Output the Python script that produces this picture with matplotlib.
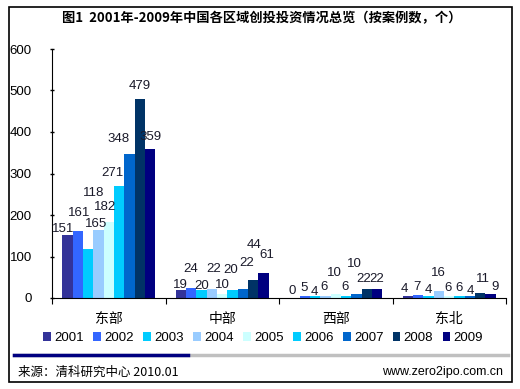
import matplotlib.pyplot as plt
import numpy as np
from matplotlib.patches import Rectangle, Patch
from matplotlib.lines import Line2D

plt.rcParams['font.family'] = ['Liberation Sans', 'Noto Sans CJK SC', 'DejaVu Sans']
cjk = ['Noto Sans CJK SC', 'DejaVu Sans']

regions = ['东部', '中部', '西部', '东北']
years = ['2001', '2002', '2003', '2004', '2005', '2006', '2007', '2008', '2009']
east = [151, 161, 118, 165, 182, 271, 348, 479, 359]
central = [19, 24, 20, 22, 10, 20, 22, 44, 61]
west = [0, 5, 4, 6, 10, 6, 10, 22, 22]
northeast = [4, 7, 4, 16, 6, 6, 4, 11, 9]
colors = ['#333399', '#3366FF', '#00CCFF', '#99CCFF', '#CCFFFF',
          '#00CCFF', '#0066CC', '#003366', '#000080']

# label nudges (pixels), mimic the staggered Excel labels
label_dx = [[-4, 1, 6, -2, -4, -7, -11, 0, 0],
            [0, -1, 0, 2, 0, -2, 4, 1, 3],
            [-2, -1, -1, -1, -1, -1, -2, -3, 0],
            [-4, -1, 0, -1, -1, -1, 0, 3, 4]]
label_dy = [[6, 18, 56, 6, 15, 13, 15, 13, 12],
            [5, 19, 4, 20, 9, 20, 26, 35, 18],
            [7, 8, 4, 9, 21, 9, 30, 10, 10],
            [7, 8, 6, 18, 8, 8, 5, 14, 7]]

data = np.array([east, central, west, northeast])

fig = plt.figure(figsize=(5.2, 3.89), dpi=100)
W, H = 520, 389
ax = fig.add_axes([52 / W, 1 - 298 / H, 454 / W, 249 / H])

n = len(years)
bw = 0.82 / n
x = np.arange(len(regions))
for j in range(n):
    pos = x - 0.41 + bw * (j + 0.5)
    ax.bar(pos, data[:, j], width=bw, color=colors[j], edgecolor='none')
    for i in range(len(regions)):
        ax.annotate(str(data[i, j]), (pos[i], data[i, j]),
                    xytext=(label_dx[i][j], label_dy[i][j]), textcoords='offset pixels',
                    ha='center', va='center', fontsize=9.5, color='#1a1a2a')

ax.set_xlim(-0.5, len(regions) - 0.5)
ax.set_ylim(0, 600)
ax.set_yticks(range(0, 601, 100))
ax.tick_params(axis='y', length=3, direction='inout', labelsize=9.5, pad=13, width=1)
ax.set_xticks(np.arange(len(regions) + 1) - 0.5)
ax.set_xticklabels([])
ax.set_xticks(x, minor=True)
ax.set_xticklabels(regions, minor=True, family=cjk, fontsize=10)
ax.tick_params(axis='x', which='major', length=4, direction='out')
ax.tick_params(axis='x', which='minor', length=0, pad=10)
for s in ['top', 'right']:
    ax.spines[s].set_visible(False)

handles = [Patch(facecolor=c, edgecolor='none') for c in colors]
fig.legend(handles, years, loc='center', bbox_to_anchor=(263 / W, 1 - 338 / H),
           ncol=9, frameon=False, fontsize=9.5, handlelength=0.6, handleheight=0.6,
           handletextpad=0.25, columnspacing=0.7)

fig.text(262 / W, 1 - 18 / H, '图1  2001年-2009年中国各区域创投投资情况总览（按案例数，个）',
         ha='center', va='center', fontsize=9.5, fontweight='bold', family=cjk)

fig.add_artist(Rectangle((9 / W, 1 - 382 / H), 503 / W, 375 / H, transform=fig.transFigure,
                         fill=False, edgecolor='black', linewidth=1.2))
fig.add_artist(Line2D([14 / W, 508 / W], [1 - 355 / H] * 2, transform=fig.transFigure,
                      color='#c0c0c0', linewidth=2.5))
fig.add_artist(Line2D([14 / W, 188 / W], [1 - 355 / H] * 2, transform=fig.transFigure,
                      color='#000080', linewidth=2.5))
fig.text(18 / W, 1 - 372 / H, '来源：清科研究中心 2010.01', ha='left', va='center',
         fontsize=9, family=cjk)
fig.text(503 / W, 1 - 372 / H, 'www.zero2ipo.com.cn', ha='right', va='center', fontsize=9)

fig.savefig('out.png', dpi=100)
